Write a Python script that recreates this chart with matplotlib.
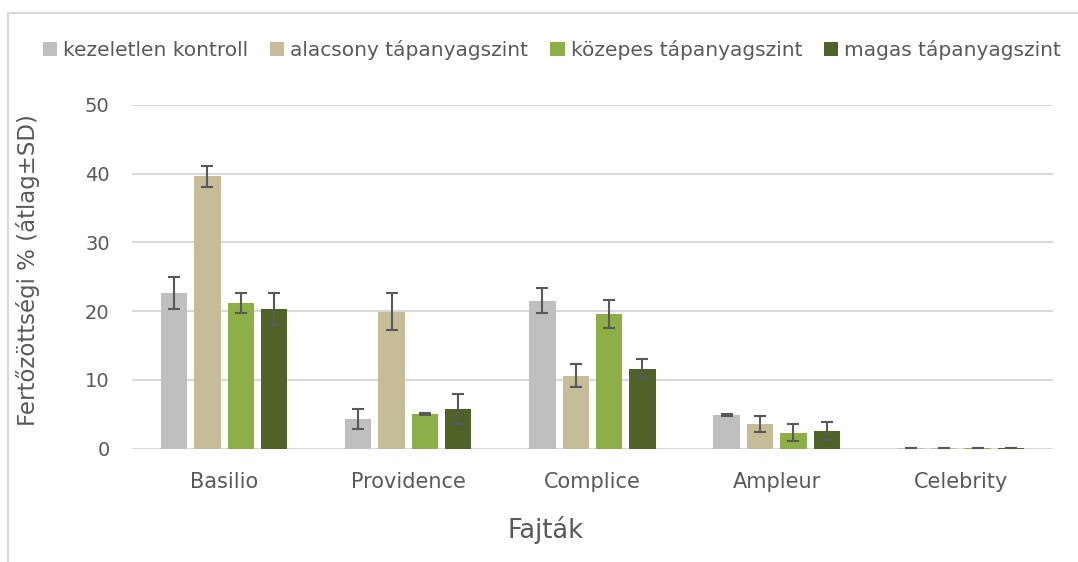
import numpy as np
import matplotlib
matplotlib.use('Agg')
import matplotlib.pyplot as plt
import matplotlib.patches as mpatches

plt.rcParams['font.family'] = ['DejaVu Sans']

# ── data ──
fajtak = ['Basilio', 'Providence', 'Complice', 'Ampleur', 'Celebrity']
kezelesek = ['kezeletlen kontroll', 'alacsony tápanyagszint',
             'közepes tápanyagszint', 'magas tápanyagszint']
atlag = [
    [22.6, 4.3, 21.5, 4.9, 0.1],    # kezeletlen kontroll
    [39.6, 19.9, 10.6, 3.6, 0.1],   # alacsony
    [21.2, 5.0, 19.6, 2.3, 0.1],    # közepes
    [20.3, 5.7, 11.6, 2.6, 0.1],    # magas
]
sd = [
    [2.3, 1.4, 1.8, 0.1, 0.0],
    [1.5, 2.7, 1.7, 1.2, 0.0],
    [1.5, 0.1, 2.0, 1.2, 0.0],
    [2.3, 2.2, 1.4, 1.3, 0.0],
]
colors = ['#BFBFBF', '#C4BD97', '#8DAF48', '#4F6228']
txt = '#595959'

fig = plt.figure(figsize=(10.78, 5.62), dpi=100)
ax = fig.add_axes([0.1224, 0.2019, 0.8544, 0.6113])

# chart-area frame (cut off at right/bottom like the screenshot)
fig.patches.append(mpatches.Rectangle((8/1078, -0.1), 1.2, 1 - 13/562 + 0.1,
                                      transform=fig.transFigure, fill=False,
                                      edgecolor='#D9D9D9', lw=1.5))

x = np.arange(len(fajtak))
step, width = 0.181, 0.143
for i, (lab, vals, errs, col) in enumerate(zip(kezelesek, atlag, sd, colors)):
    ax.bar(x + (i - 1.5) * step, vals, width, color=col, label=lab, zorder=3,
           yerr=errs, error_kw=dict(ecolor=txt, elinewidth=1.5,
                                    capsize=4.5, capthick=1.5, zorder=4))

ax.set_xlim(-0.5, len(fajtak) - 0.5)
ax.set_ylim(0, 50)
ax.set_yticks(range(0, 51, 10))
ax.set_xticks(x)
ax.set_xticklabels(fajtak)
ax.tick_params(axis='x', length=0, labelsize=15, colors=txt, pad=17)
ax.tick_params(axis='y', length=0, labelsize=14, colors=txt, pad=16)
ax.grid(axis='y', color='#D9D9D9', lw=1.5, zorder=1)
for s in ax.spines.values():
    s.set_visible(False)

fig.text(546/1078, 1 - 538/562, 'Fajták', ha='center', va='baseline',
         fontsize=18.5, color=txt)
fig.text(28/1078, 1 - 270/562, 'Fertőzöttségi % (átlag±SD)', rotation=90,
         ha='center', va='center', fontsize=16.5, color=txt)

fig.legend(loc='center', bbox_to_anchor=(552/1078, 1 - 50/562), ncol=4,
           frameon=False, fontsize=14.5, labelcolor=txt,
           handlelength=0.7, handleheight=0.7, handletextpad=0.3,
           columnspacing=1.1)

fig.savefig('out.png', dpi=100)
